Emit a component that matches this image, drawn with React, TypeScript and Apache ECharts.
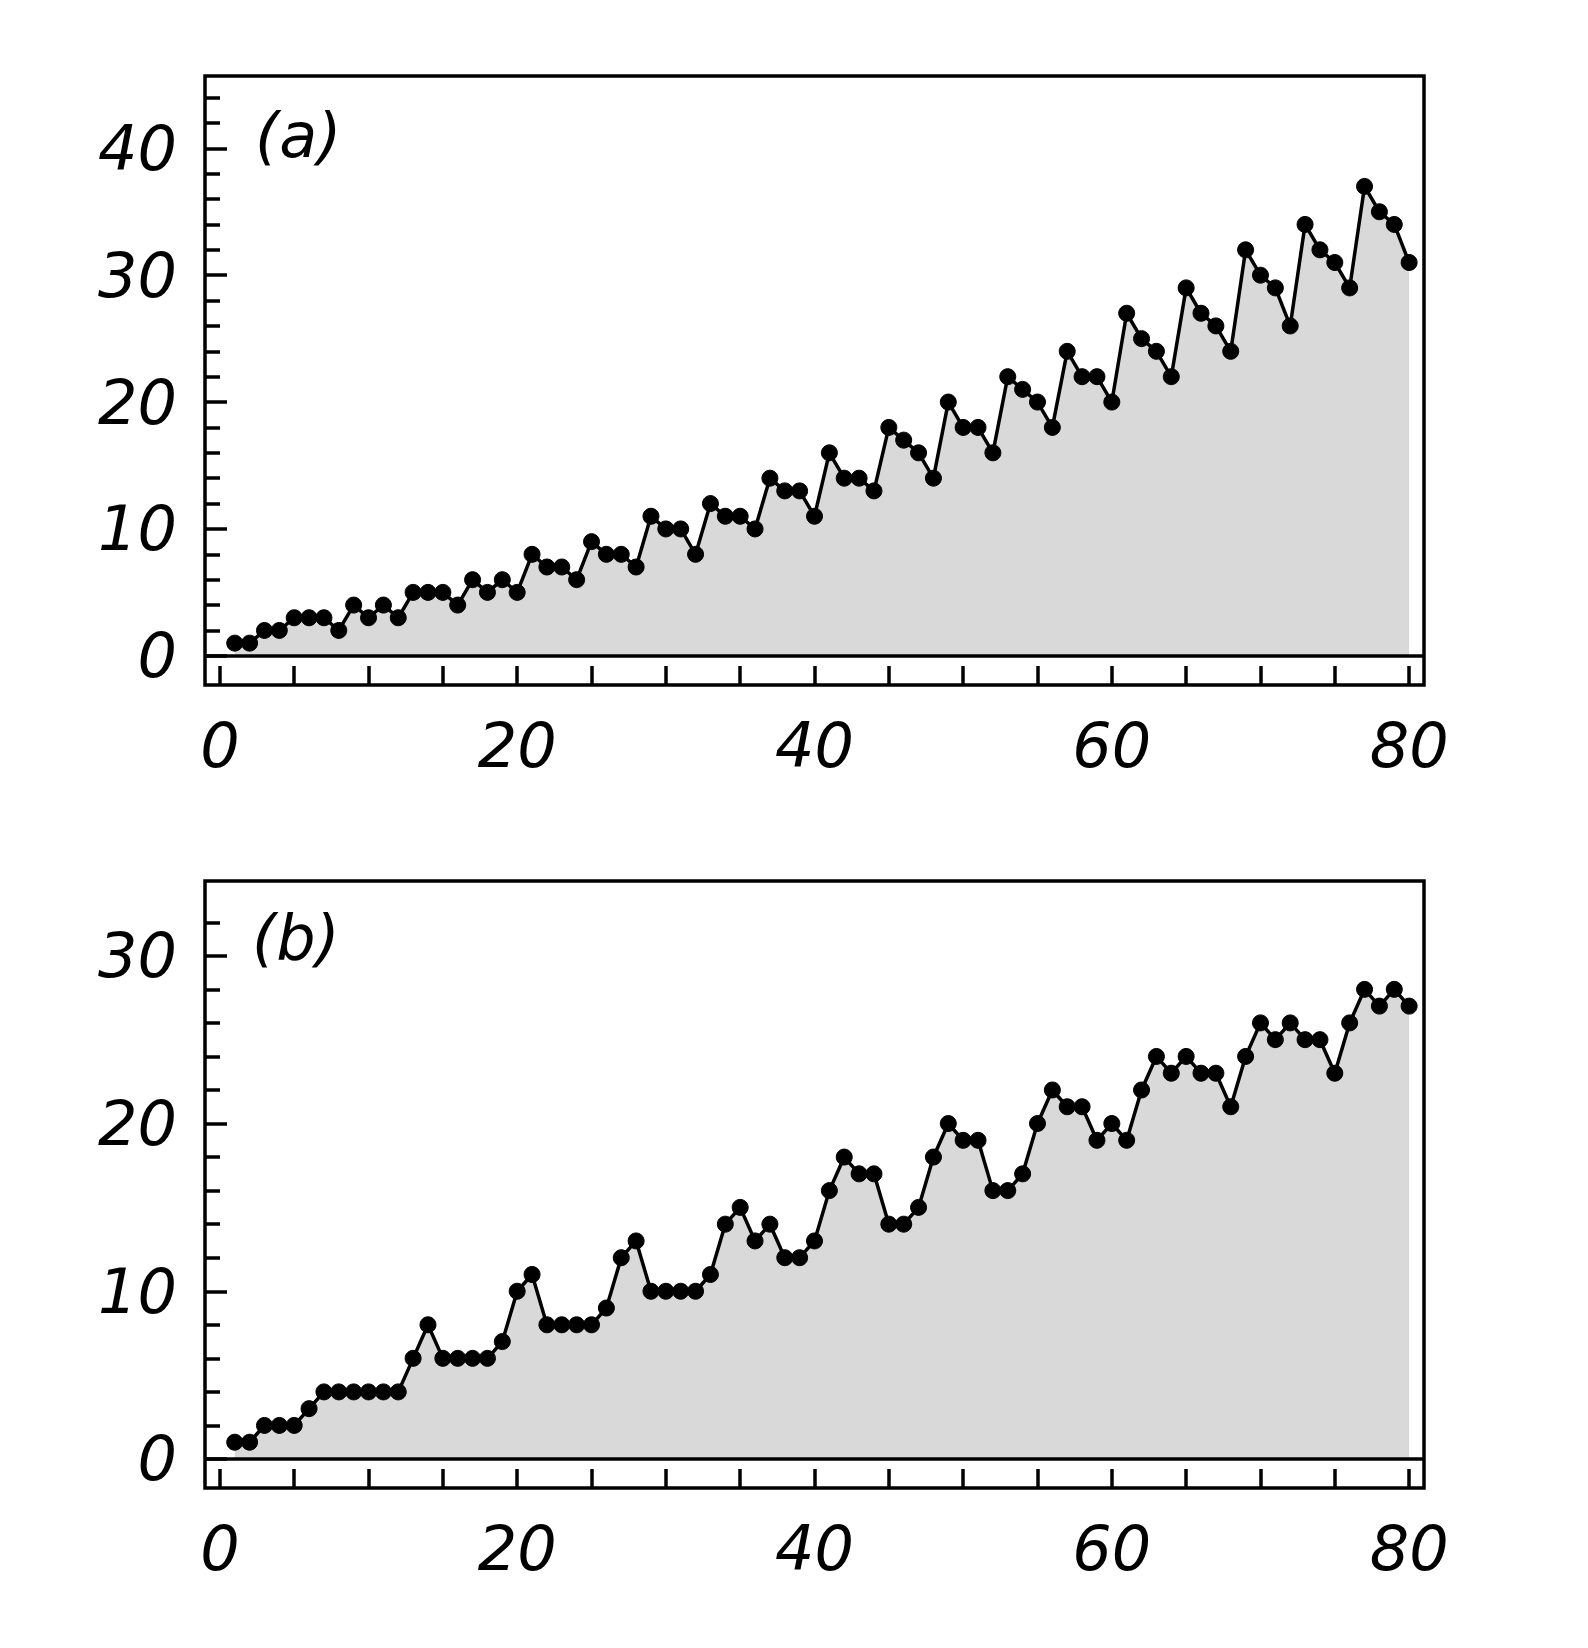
import React, { useEffect, useRef } from "react";
import * as echarts from "echarts";

const xValues = [
  1, 2, 3, 4, 5, 6, 7, 8, 9, 10, 11, 12, 13, 14, 15, 16, 17, 18, 19, 20,
  21, 22, 23, 24, 25, 26, 27, 28, 29, 30, 31, 32, 33, 34, 35, 36, 37, 38, 39, 40,
  41, 42, 43, 44, 45, 46, 47, 48, 49, 50, 51, 52, 53, 54, 55, 56, 57, 58, 59, 60,
  61, 62, 63, 64, 65, 66, 67, 68, 69, 70, 71, 72, 73, 74, 75, 76, 77, 78, 79, 80,
];

const seriesA = [
  1, 1, 2, 2, 3, 3, 3, 2, 4, 3, 4, 3, 5, 5, 5, 4, 6, 5, 6, 5,
  8, 7, 7, 6, 9, 8, 8, 7, 11, 10, 10, 8, 12, 11, 11, 10, 14, 13, 13, 11,
  16, 14, 14, 13, 18, 17, 16, 14, 20, 18, 18, 16, 22, 21, 20, 18, 24, 22, 22, 20,
  27, 25, 24, 22, 29, 27, 26, 24, 32, 30, 29, 26, 34, 32, 31, 29, 37, 35, 34, 31,
];

const seriesB = [
  1, 1, 2, 2, 2, 3, 4, 4, 4, 4, 4, 4, 6, 8, 6, 6, 6, 6, 7, 10,
  11, 8, 8, 8, 8, 9, 12, 13, 10, 10, 10, 10, 11, 14, 15, 13, 14, 12, 12, 13,
  16, 18, 17, 17, 14, 14, 15, 18, 20, 19, 19, 16, 16, 17, 20, 22, 21, 21, 19, 20,
  19, 22, 24, 23, 24, 23, 23, 21, 24, 26, 25, 26, 25, 25, 23, 26, 28, 27, 28, 27,
];

const xTickValues = [0, 5, 10, 15, 20, 25, 30, 35, 40, 45, 50, 55, 60, 65, 70, 75, 80];
const xLabelValues = [0, 20, 40, 60, 80];

const yMajorA = [0, 10, 20, 30, 40];
const yMinorA = [2, 4, 6, 8, 12, 14, 16, 18, 22, 24, 26, 28, 32, 34, 36, 38, 42, 44];
const yMajorB = [0, 10, 20, 30];
const yMinorB = [2, 4, 6, 8, 12, 14, 16, 18, 22, 24, 26, 28, 32];

const rangeA = { min: -2.3, max: 45.7 };
const rangeB = { min: -1.73, max: 34.46 };
const xRange = { min: -1, max: 81 };

const panelLabels = ["(a)", "(b)"];

const FONT = '"DejaVu Sans", sans-serif';
const FONT_SIZE = 62;
const STROKE = 3.5;

function xAxisFor(gridIndex: number) {
  return {
    type: "value",
    gridIndex,
    position: "bottom",
    min: xRange.min,
    max: xRange.max,
    axisLine: { show: false, onZero: false },
    splitLine: { show: false },
    axisTick: {
      show: true,
      inside: true,
      length: 19,
      lineStyle: { color: "#000", width: STROKE },
      customValues: xTickValues,
    },
    axisLabel: {
      show: true,
      customValues: xLabelValues,
      margin: 29,
      fontSize: FONT_SIZE,
      fontStyle: "italic",
      fontFamily: FONT,
      color: "#000",
    },
  };
}

function yAxisFor(gridIndex: number, range: { min: number; max: number }, values: number[], major: boolean) {
  return {
    type: "value",
    gridIndex,
    position: "left",
    offset: 0,
    min: range.min,
    max: range.max,
    axisLine: { show: false, onZero: false },
    splitLine: { show: false },
    axisTick: {
      show: true,
      inside: true,
      length: major ? 22 : 15,
      lineStyle: { color: "#000", width: STROKE },
      customValues: values,
    },
    axisLabel: major
      ? {
          show: true,
          customValues: values,
          margin: 28,
          fontSize: FONT_SIZE,
          fontStyle: "italic",
          fontFamily: FONT,
          color: "#000",
        }
      : { show: false },
  };
}

function areaSeries(gridIdx: number, yAxisIndex: number, values: number[]) {
  return {
    type: "line",
    xAxisIndex: gridIdx,
    yAxisIndex,
    data: xValues.map((x, i) => [x, values[i]]),
    showSymbol: false,
    symbol: "none",
    lineStyle: { width: 0, opacity: 0 },
    areaStyle: { color: "#d9d9d9", opacity: 1, origin: 0 },
    silent: true,
    z: 1,
  };
}

function lineSeries(gridIdx: number, yAxisIndex: number, values: number[]) {
  return {
    type: "line",
    xAxisIndex: gridIdx,
    yAxisIndex,
    data: xValues.map((x, i) => [x, values[i]]),
    symbol: "circle",
    symbolSize: 16,
    showSymbol: true,
    itemStyle: { color: "#000", borderColor: "#000", borderWidth: 1 },
    lineStyle: { color: "#000", width: STROKE },
    z: 4,
    markLine: {
      silent: true,
      symbol: ["none", "none"],
      label: { show: false },
      lineStyle: { color: "#000", width: STROKE, type: "solid" },
      data: [{ yAxis: 0 }],
    },
  };
}

export default function App() {
  const ref = useRef<HTMLDivElement>(null);

  useEffect(() => {
    if (!ref.current) return;
    const chart = echarts.init(ref.current, undefined, { renderer: "svg" });
    const gridCommon = {
      left: 205,
      width: 1219,
      show: true,
      borderColor: "#000",
      borderWidth: STROKE,
      backgroundColor: "transparent",
      containLabel: false,
    };
    const option = {
      animation: false,
      backgroundColor: "#fff",
      grid: [
        { ...gridCommon, top: 76, height: 609 },
        { ...gridCommon, top: 881, height: 607 },
      ],
      xAxis: [xAxisFor(0), xAxisFor(1)],
      yAxis: [
        yAxisFor(0, rangeA, yMajorA, true),
        yAxisFor(0, rangeA, yMinorA, false),
        yAxisFor(1, rangeB, yMajorB, true),
        yAxisFor(1, rangeB, yMinorB, false),
      ],
      series: [
        areaSeries(0, 0, seriesA),
        areaSeries(1, 2, seriesB),
        lineSeries(0, 0, seriesA),
        lineSeries(1, 2, seriesB),
      ],
      graphic: [
        {
          type: "text",
          left: 255,
          top: 104,
          style: { text: panelLabels[0], font: `italic ${FONT_SIZE}px ${FONT}`, fill: "#000" },
        },
        {
          type: "text",
          left: 252,
          top: 906,
          style: { text: panelLabels[1], font: `italic ${FONT_SIZE}px ${FONT}`, fill: "#000" },
        },
      ],
    };
    chart.setOption(option as any);
    return () => chart.dispose();
  }, []);

  return (
    <div
      ref={ref}
      style={{ position: "absolute", left: 0, top: 0, width: 1588, height: 1648 }}
    />
  );
}
